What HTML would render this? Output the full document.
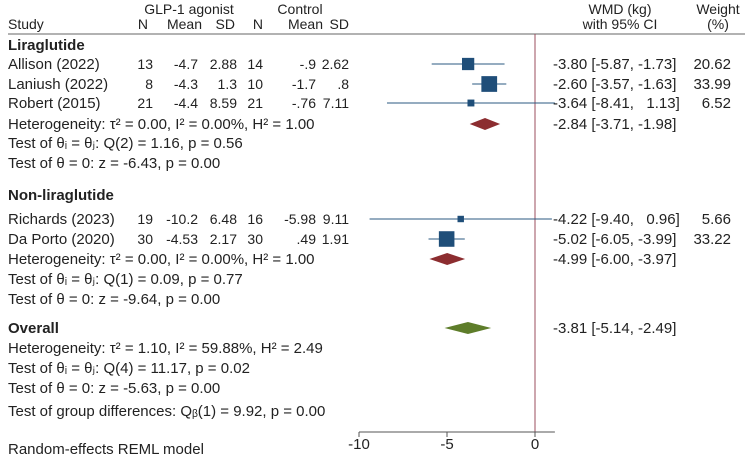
<!DOCTYPE html>
<html><head><meta charset="utf-8"><style>
body{margin:0;background:#fff;}
svg text{font-family:"Liberation Sans",sans-serif;font-size:15px;fill:#222;}
svg text.num{font-size:14px;}
</style></head><body>
<svg id="c" width="749" height="469" xmlns="http://www.w3.org/2000/svg">
<g id="g"></g>
</svg>
<script>
const studies=["Allison (2022)","Laniush (2022)","Robert (2015)","Richards (2023)","Da Porto (2020)"];
const nT=["13","8","21","19","30"];
const meanT=["-4.7","-4.3","-4.4","-10.2","-4.53"];
const sdT=["2.88","1.3","8.59","6.48","2.17"];
const nC=["14","10","21","16","30"];
const meanC=["-.9","-1.7","-.76","-5.98",".49"];
const sdC=["2.62",".8","7.11","9.11","1.91"];
const est=[-3.80,-2.60,-3.64,-4.22,-5.02];
const lo=[-5.87,-3.57,-8.41,-9.40,-6.05];
const hi=[-1.73,-1.63,1.13,0.96,-3.99];
const wt=[20.62,33.99,6.52,5.66,33.22];
const rowY=[64,84,103,219,239];
const pooled=[[-2.84,-3.71,-1.98],[-4.99,-6.00,-3.97],[-3.81,-5.14,-2.49]];
const pooledY=[124,259,328];
const ticks=[-10,-5,0];
const NS="http://www.w3.org/2000/svg";
const g=document.getElementById('g');
const X=v=>535+v*17.6;
function el(t,a,txt){const e=document.createElementNS(NS,t);for(const k in a)e.setAttribute(k,a[k]);if(txt!==undefined)e.textContent=txt;g.appendChild(e);return e;}
function tx(x,y,s,anchor,name,bold,cls){const e=el('text',{x:x,y:y,'text-anchor':anchor||'start','font-weight':bold?'bold':'normal'},s);
if(cls)e.setAttribute('class',cls);

return e;}
tx(189,14,"GLP-1 agonist","middle","header-glp1",false,"num");
tx(300,14,"Control","middle","header-control",false,"num");
tx(8,29,"Study","start","header-study",false,"num");
[[148,"N"],[202,"Mean"],[235,"SD"],[263,"N"],[323,"Mean"],[349,"SD"]].forEach(h=>tx(h[0],29,h[1],"end","header-col",false,"num"));
tx(620,14,"WMD (kg)","middle","header-wmd",false,"num");tx(620,29,"with 95% CI","middle","header-ci",false,"num");
tx(718,14,"Weight","middle","header-weight",false,"num");tx(718,29,"(%)","middle","header-pct",false,"num");
let l=el('line',{x1:8,y1:34,x2:745,y2:34,stroke:'#666','stroke-width':1});

l=el('line',{x1:X(0),y1:34,x2:X(0),y2:432,stroke:'#9b4d5e','stroke-width':1});

tx(8,50,"Liraglutide","start","group-liraglutide",true);
tx(8,200,"Non-liraglutide","start","group-nonliraglutide",true);
tx(8,333,"Overall","start","group-overall",true);
const f=v=>v.toFixed(2);
for(let i=0;i<studies.length;i++){
 const y=rowY[i]+5;
 tx(8,y,studies[i],"start","study-name");
 tx(153,y,nT[i],"end","n-treat",false,"num");tx(198,y,meanT[i],"end","mean-treat",false,"num");tx(237,y,sdT[i],"end","sd-treat",false,"num");
 tx(263,y,nC[i],"end","n-control",false,"num");tx(316,y,meanC[i],"end","mean-control",false,"num");tx(349,y,sdC[i],"end","sd-control",false,"num");
 let c=el('line',{x1:X(lo[i]),y1:rowY[i],x2:X(hi[i]),y2:rowY[i],stroke:'#2b5a80','stroke-width':1});
 
 const s=Math.sqrt(wt[i])*2.7;
 let r=el('rect',{x:X(est[i])-s/2,y:rowY[i]-s/2,width:s,height:s,fill:'#1f4e79'});
 
 tx(553,y,f(est[i])+" ["+f(lo[i])+", "+(hi[i]<0?"":"\u00a0\u00a0")+f(hi[i])+"]","start","effect-ci");
 tx(731,y,f(wt[i]),"end","weight-value");
}
const cols=['#8c2d30','#8c2d30','#5e7d2a'];
pooled.forEach((p,i)=>{const y=pooledY[i];
 let d=el('polygon',{points:`${X(p[1])},${y} ${X(p[0])},${y-6} ${X(p[2])},${y} ${X(p[0])},${y+6}`,fill:cols[i]});
 
 tx(553,y+5,f(p[0])+" ["+f(p[1])+", "+f(p[2])+"]","start","pooled-ci");});
const lines=[[129,"Heterogeneity: τ² = 0.00, I² = 0.00%, H² = 1.00"],[148,"Test of θᵢ = θⱼ: Q(2) = 1.16, p = 0.56"],[168,"Test of θ = 0: z = -6.43, p = 0.00"],
[264,"Heterogeneity: τ² = 0.00, I² = 0.00%, H² = 1.00"],[284,"Test of θᵢ = θⱼ: Q(1) = 0.09, p = 0.77"],[304,"Test of θ = 0: z = -9.64, p = 0.00"],
[353,"Heterogeneity: τ² = 1.10, I² = 59.88%, H² = 2.49"],[373,"Test of θᵢ = θⱼ: Q(4) = 11.17, p = 0.02"],[393,"Test of θ = 0: z = -5.63, p = 0.00"],
[416,"Test of group differences: Qᵦ(1) = 9.92, p = 0.00"],[454,"Random-effects REML model"]];
lines.forEach(a=>tx(8,a[0],a[1],"start","stat-text"));
l=el('line',{x1:X(-10),y1:432,x2:X(1.13),y2:432,stroke:'#555','stroke-width':1});

ticks.forEach(t=>{let k=el('line',{x1:X(t),y1:432,x2:X(t),y2:437,stroke:'#555'});
 
 tx(X(t),449,String(t),"middle","x-tick-label");});
</script>
</body></html>
